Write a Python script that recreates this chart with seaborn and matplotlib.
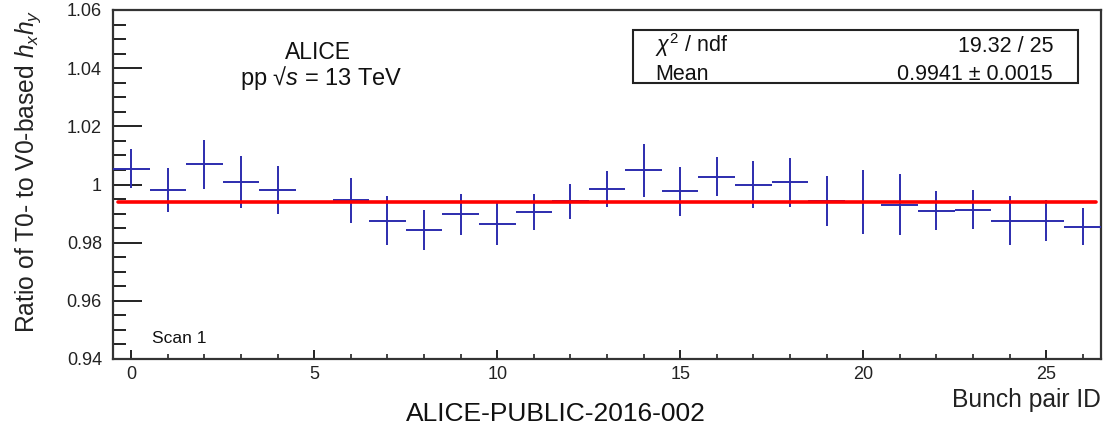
import numpy as np
import pandas as pd
import matplotlib
matplotlib.use("Agg")
import matplotlib.pyplot as plt
import seaborn as sns
from matplotlib.ticker import MultipleLocator, FuncFormatter
from matplotlib.patches import Rectangle

# ---- data ----
bunch_id = [0, 1, 2, 3, 4, 6, 7, 8, 9, 10, 11, 12, 13, 14, 15, 16, 17, 18, 19, 20, 21, 22, 23, 24, 25, 26]
ratio = [1.0055, 0.9982, 1.0069, 1.0008, 0.9980, 0.9945, 0.9876, 0.9843, 0.9897, 0.9864, 0.9905, 0.9943,
         0.9985, 1.0049, 0.9976, 1.0027, 1.0000, 1.0007, 0.9943, 0.9939, 0.9931, 0.9910, 0.9914, 0.9876,
         0.9876, 0.9855]
ratio_err = [0.0067, 0.0075, 0.0085, 0.0090, 0.0083, 0.0078, 0.0085, 0.0069, 0.0069, 0.0073, 0.0062, 0.0060,
             0.0063, 0.0091, 0.0084, 0.0066, 0.0081, 0.0085, 0.0086, 0.0110, 0.0106, 0.0066, 0.0066, 0.0085,
             0.0070, 0.0064]
fit_mean = 0.9941
fit_range = [-0.35, 26.35]
stats_labels = [r"$\chi^{2}$ / ndf", "Mean"]
stats_values = ["19.32 / 25", "0.9941 ± 0.0015"]

df = pd.DataFrame({"bunch": bunch_id, "ratio": ratio, "err": ratio_err})
fit_df = pd.DataFrame({"x": fit_range, "y": [fit_mean, fit_mean]})

sns.set_theme(style="white")
plt.rcParams["font.family"] = ["Liberation Sans", "DejaVu Sans"]
plt.rcParams["mathtext.fontset"] = "custom"
plt.rcParams["mathtext.rm"] = "Liberation Sans"
plt.rcParams["mathtext.it"] = "Liberation Sans:italic"
plt.rcParams["mathtext.sf"] = "Liberation Sans"

fig = plt.figure(figsize=(11.07, 4.30), dpi=100)
ax = fig.add_axes([113/1107, 1-359/430, (1101-113)/1107, (359-10)/430])

blue = "#2c2cae"
ax.errorbar(df["bunch"], df["ratio"], xerr=0.5, yerr=df["err"], fmt="none",
            ecolor=blue, elinewidth=1.4, capsize=0, zorder=3)
sns.lineplot(data=fit_df, x="x", y="y", ax=ax, color="#ff0000", linewidth=2.6, zorder=4)

ax.set_xlim(-0.5, 26.5)
ax.set_ylim(0.94, 1.06)
ax.set_xlabel("")
ax.set_ylabel("")

ax.xaxis.set_major_locator(MultipleLocator(5))
ax.xaxis.set_minor_locator(MultipleLocator(1))
ax.yaxis.set_major_locator(MultipleLocator(0.02))
ax.yaxis.set_minor_locator(MultipleLocator(0.005))

def yfmt(v, pos):
    if abs(v - 1.0) < 1e-9:
        return "1"
    return f"{v:.2f}"
ax.yaxis.set_major_formatter(FuncFormatter(yfmt))

ax.tick_params(axis="y", which="major", direction="in", length=21, width=1.4, color="#222222",
               labelsize=13, pad=8, left=True, right=False, labelcolor="#222222")
ax.tick_params(axis="y", which="minor", direction="in", length=9.5, width=1.4, color="#222222",
               left=True, right=False)
ax.tick_params(axis="x", which="major", direction="in", length=6.8, width=1.4, color="#222222",
               labelsize=13, pad=5, bottom=True, top=False, labelcolor="#222222")
ax.tick_params(axis="x", which="minor", direction="in", length=3.4, width=1.2, color="#222222",
               bottom=True, top=False)
for s in ax.spines.values():
    s.set_visible(True)
    s.set_color("#333333")
    s.set_linewidth(1.6)

# text annotations
fig.text(28/1107, 1-10/430, r"Ratio of T0- to V0-based $h_{x}h_{y}$", rotation=90,
         ha="center", va="top", fontsize=17.7, color="#222222")
fig.text(1101/1107, 1-407/430, "Bunch pair ID", ha="right", va="baseline", fontsize=17.7, color="#222222")
fig.text(556/1107, 1-421/430, "ALICE-PUBLIC-2016-002", ha="center", va="baseline", fontsize=19, color="#111111")
fig.text(318/1107, 1-59/430, "ALICE", ha="center", va="baseline", fontsize=16.5, color="#111111")
fig.text(321/1107, 1-85/430, "pp √$s$ = 13 TeV", ha="center", va="baseline", fontsize=17, color="#111111")
fig.text(179/1107, 1-343/430, "Scan 1", ha="center", va="baseline", fontsize=12.5, color="#111111")

# stats box
box = Rectangle((633/1107, 1-83/430), (1078-633)/1107, (83-30)/430, transform=fig.transFigure,
                fill=False, edgecolor="#222222", linewidth=1.5)
fig.patches.append(box)
for i, (lab, val) in enumerate(zip(stats_labels, stats_values)):
    yy = 1 - (52 + 28*i)/430
    fig.text(655/1107, yy, lab, ha="left", va="baseline", fontsize=15.5, color="#111111")
    fig.text(1053/1107, yy, val, ha="right", va="baseline", fontsize=15.5, color="#111111")

fig.savefig("out.png", dpi=100)
